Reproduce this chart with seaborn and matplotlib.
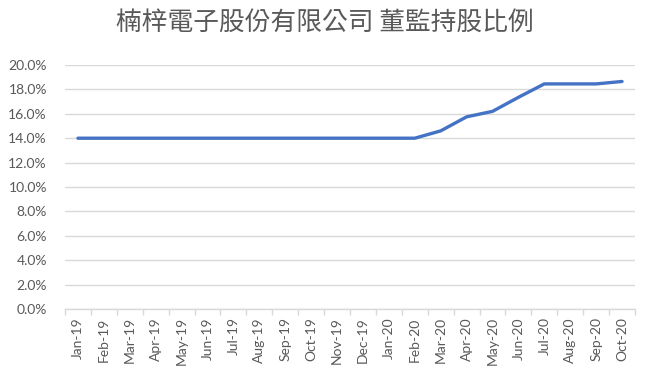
import matplotlib
matplotlib.use("Agg")
import matplotlib.pyplot as plt
import seaborn as sns
import pandas as pd
from matplotlib.ticker import FixedLocator, PercentFormatter

months = ["Jan-19", "Feb-19", "Mar-19", "Apr-19", "May-19", "Jun-19", "Jul-19",
          "Aug-19", "Sep-19", "Oct-19", "Nov-19", "Dec-19", "Jan-20", "Feb-20",
          "Mar-20", "Apr-20", "May-20", "Jun-20", "Jul-20", "Aug-20", "Sep-20", "Oct-20"]
ratio = [14.0, 14.0, 14.0, 14.0, 14.0, 14.0, 14.0, 14.0, 14.0, 14.0, 14.0, 14.0,
         14.0, 14.0, 14.6, 15.75, 16.2, 17.35, 18.45, 18.45, 18.45, 18.65]
title = "楠梓電子股份有限公司 董監持股比例"

sns.set_theme(style="white")
plt.rcParams['font.family'] = ['Lato', 'DejaVu Sans']

df = pd.DataFrame({"month": months, "ratio": ratio})

fig = plt.figure(figsize=(6.54, 3.80), dpi=100)
ax = fig.add_axes([65/654, 1-309/380, (635-65)/654, (309-65)/380])

sns.lineplot(data=df, x="month", y="ratio", ax=ax, color="#4472C4", linewidth=2.4,
             sort=False)

ax.set_xlim(-0.5, len(months) - 0.5)
ax.set_ylim(0, 20)
ax.set_yticks([0, 2, 4, 6, 8, 10, 12, 14, 16, 18, 20])
ax.yaxis.set_major_formatter(PercentFormatter(decimals=1))
ax.grid(axis="y", color="#d9d9d9", linewidth=1)
ax.set_axisbelow(True)

ax.set_xticks(range(len(months)))
ax.set_xticklabels(months, rotation=90)
ax.xaxis.set_minor_locator(FixedLocator([i - 0.5 for i in range(len(months) + 1)]))
ax.tick_params(axis="x", which="major", length=0, pad=6, labelsize=10, labelcolor="#595959")
ax.tick_params(axis="x", which="minor", length=4, color="#d9d9d9", width=1, bottom=True)
ax.tick_params(axis="y", length=0, pad=13, labelsize=10, labelcolor="#595959")

for s in ["top", "right", "left"]:
    ax.spines[s].set_visible(False)
ax.spines["bottom"].set_color("#d9d9d9")
ax.spines["bottom"].set_linewidth(1)

ax.set_xlabel("")
ax.set_ylabel("")

fig.text(325/654, 1-23/380, title, ha="center", va="center", fontsize=18.5,
         color="#595959", family=["Noto Sans CJK TC", "DejaVu Sans"], fontweight="light")

fig.savefig("out.png", dpi=100)
